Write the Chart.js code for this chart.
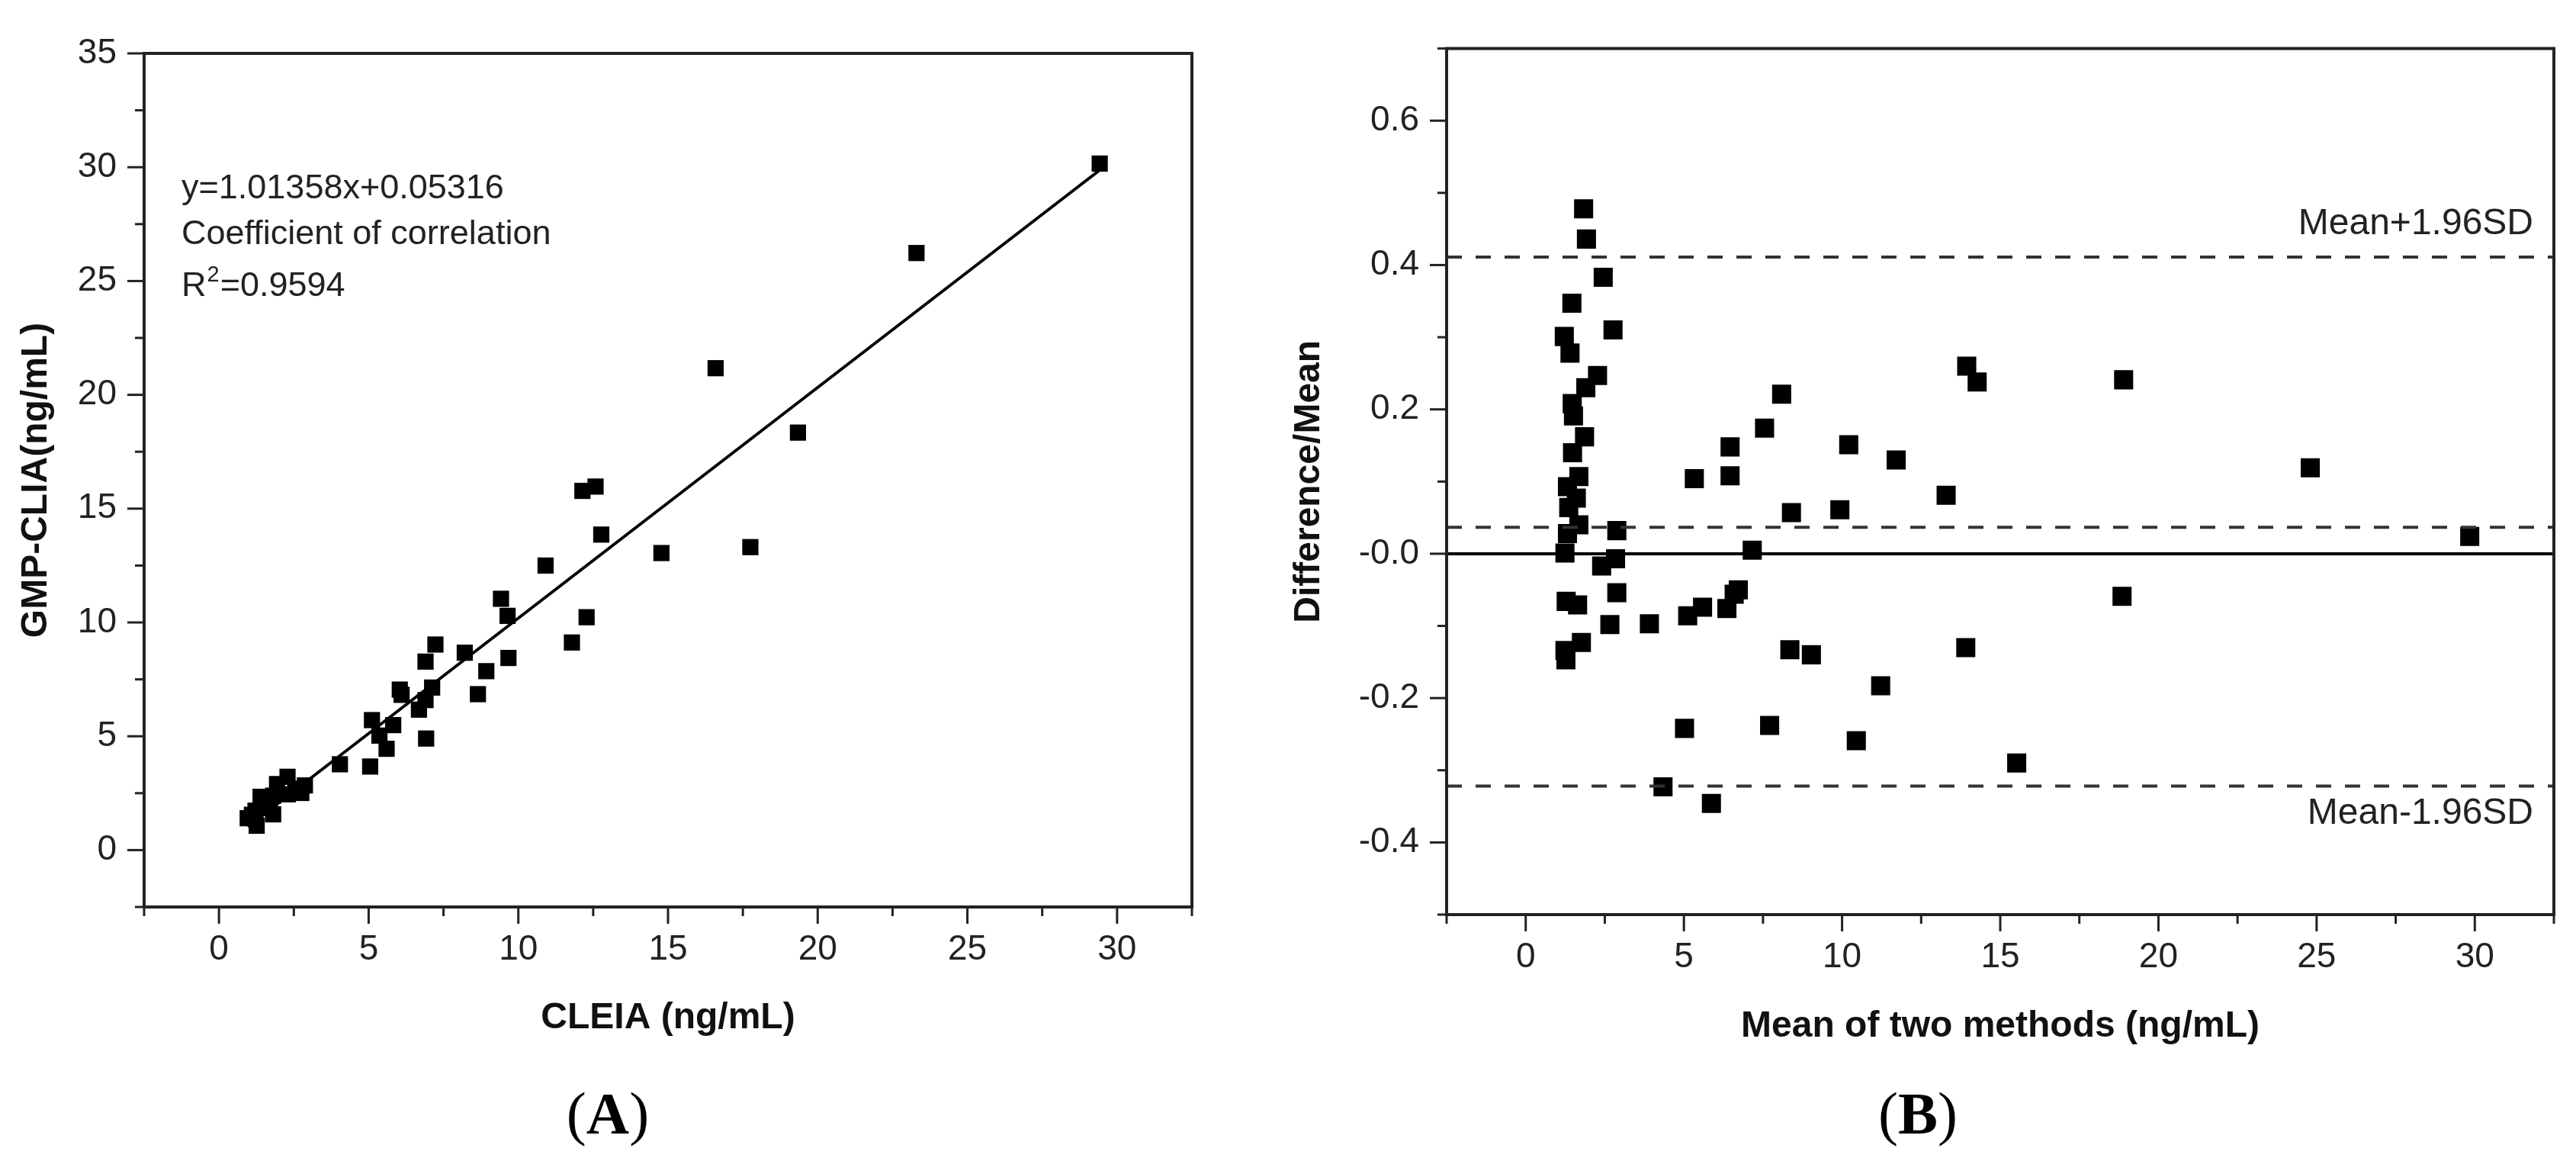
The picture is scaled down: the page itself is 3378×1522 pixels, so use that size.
<!DOCTYPE html>
<html lang="en">
<head>
<meta charset="UTF-8">
<title>CLEIA vs GMP-CLIA</title>
<script src="https://cdn.jsdelivr.net/npm/chart.js"></script>
<style>
    html, body { margin: 0; padding: 0; background: #fff; }
    body { width: 3378px; height: 1522px; position: relative; overflow: hidden; }
    canvas { position: absolute; top: 0; }
    #chartA { left: 0; }
    #chartB { left: 1680px; }
    .panel-tag {
        position: absolute;
        font-family: 'Liberation Serif', 'Times New Roman', serif;
        font-size: 78px;
        line-height: 1;
        color: #000;
        transform: translate(-50%, -50%);
        white-space: nowrap;
    }
</style>
</head>
<body>
<canvas id="chartA" width="1660" height="1400"></canvas>
<canvas id="chartB" width="1698" height="1420"></canvas>
<div class="panel-tag" style="left:797px; top:1460px;">(<b>A</b>)</div>
<div class="panel-tag" style="left:2515px; top:1460px;">(<b>B</b>)</div>
<script>
// Panel A - CLEIA vs GMP-CLIA (ng/mL)
const cleia = [29.42, 23.30, 16.59, 19.34, 17.75, 14.78, 12.14, 12.58, 12.77, 10.91,
               9.42, 9.64, 12.28, 11.79, 9.67, 8.93, 8.65, 8.21, 7.23, 6.90,
               7.12, 6.90, 6.68, 6.04, 6.10, 6.92, 5.11, 5.82, 5.36, 5.60,
               5.05, 4.04,
               0.96, 1.10, 1.26, 1.22, 1.39, 1.52, 1.81, 1.70, 1.81, 1.94,
               2.29, 2.30, 2.75, 2.87, 2.55];
const gmpClia = [30.16, 26.23, 21.17, 18.34, 13.31, 13.05, 15.78, 15.97, 13.86, 12.50,
                 11.04, 10.29, 10.23, 9.12, 8.44, 7.86, 6.85, 8.67, 9.03, 8.28,
                 7.14, 6.59, 6.17, 7.05, 6.82, 4.90, 5.71, 5.49, 5.03, 4.45,
                 3.67, 3.77,
                 1.40, 1.55, 1.07, 1.73, 2.34, 2.10, 1.57, 1.85, 2.39, 2.90,
                 3.22, 2.45, 2.51, 2.84, 2.70];
const fitSlope = 1.01358;
const fitIntercept = 0.05316;

// Panel B - difference/mean against mean of the two methods
const meanTwo = [1.83, 1.92, 2.45, 1.46, 2.76, 1.22, 1.40, 2.27, 1.90, 1.47,
                 1.51, 1.86, 1.48, 1.68, 1.32, 1.60, 1.36, 1.68, 1.32, 2.88,
                 1.24, 2.84, 2.40, 2.88, 1.28, 1.64, 2.66, 3.91, 1.76, 1.24,
                 1.27,
                 5.33, 6.46, 6.46, 7.55, 8.09, 8.40, 7.16, 6.72, 6.59, 6.36,
                 5.59, 5.12, 8.35, 9.03, 5.02, 7.71, 4.34, 5.87, 10.45, 11.22,
                 9.93, 10.21, 11.71, 13.29, 13.94, 14.27, 13.91, 15.52, 18.90, 18.85,
                 24.80, 29.84];
const diffOverMean = [0.478, 0.436, 0.383, 0.347, 0.310, 0.301, 0.278, 0.247, 0.230, 0.208,
                      0.191, 0.162, 0.140, 0.107, 0.093, 0.077, 0.064, 0.040, 0.028, 0.032,
                      0.001, -0.007, -0.017, -0.054, -0.066, -0.071, -0.098, -0.097, -0.123, -0.134,
                      -0.147,
                      0.104, 0.148, 0.108, 0.174, 0.221, 0.057, 0.005, -0.050, -0.056, -0.076,
                      -0.074, -0.086, -0.133, -0.140, -0.242, -0.238, -0.323, -0.346, -0.259, -0.183,
                      0.061, 0.151, 0.130, 0.081, 0.260, 0.238, -0.130, -0.290, 0.241, -0.059,
                      0.119, 0.024];
const meanBias = 0.0367;
const upperLimit = 0.411;
const lowerLimit = -0.322;

// tick labels
const xLabelsA = [0, 5, 10, 15, 20, 25, 30];
const yLabelsA = [0, 5, 10, 15, 20, 25, 30, 35];
const xLabelsB = [0, 5, 10, 15, 20, 25, 30];
const yLabelsB = [-0.4, -0.2, 0.0, 0.2, 0.4, 0.6];

const axisColor = '#222';
const tickFont = { family: "'Liberation Sans', Arial, sans-serif", size: 46 };
const titleFont = { family: "'Liberation Sans', Arial, sans-serif", size: 48, weight: 'bold' };

function hasLabel(list, v) {
    return list.some(l => Math.abs(l - v) < 1e-6);
}

// frame box + outward major/minor ticks on bottom and left
const frameTicks = {
    id: 'frameTicks',
    afterDraw(chart, args, opts) {
        const { ctx, chartArea: a, scales } = chart;
        ctx.save();
        ctx.strokeStyle = axisColor;
        ctx.lineWidth = 3;
        scales.x.ticks.forEach(t => {
            const px = scales.x.getPixelForValue(t.value);
            const len = hasLabel(opts.xMajor, t.value) ? 22 : 12;
            ctx.beginPath();
            ctx.moveTo(px, a.bottom);
            ctx.lineTo(px, a.bottom + len);
            ctx.stroke();
        });
        scales.y.ticks.forEach(t => {
            const py = scales.y.getPixelForValue(t.value);
            const len = hasLabel(opts.yMajor, t.value) ? 22 : 12;
            ctx.beginPath();
            ctx.moveTo(a.left, py);
            ctx.lineTo(a.left - len, py);
            ctx.stroke();
        });
        ctx.lineWidth = 4;
        ctx.strokeRect(a.left, a.top, a.right - a.left, a.bottom - a.top);
        ctx.restore();
    }
};

// free text inside the plot areas
const notes = {
    id: 'notes',
    afterDraw(chart, args, opts) {
        const { ctx, chartArea: a } = chart;
        ctx.save();
        ctx.fillStyle = axisColor;
        ctx.textBaseline = 'alphabetic';
        if (opts.kind === 'fit') {
            const x0 = a.left + 49;
            ctx.font = "45px 'Liberation Sans', Arial, sans-serif";
            ctx.textAlign = 'left';
            ctx.fillText('y=1.01358x+0.05316', x0, a.top + 190);
            ctx.fillText('Coefficient of correlation', x0, a.top + 250);
            const base = a.top + 318;
            ctx.fillText('R', x0, base);
            const rw = ctx.measureText('R').width;
            ctx.font = "29px 'Liberation Sans', Arial, sans-serif";
            ctx.fillText('2', x0 + rw + 1, base - 19);
            const sw = ctx.measureText('2').width;
            ctx.font = "45px 'Liberation Sans', Arial, sans-serif";
            ctx.fillText('=0.9594', x0 + rw + sw + 2, base);
        } else {
            const ys = chart.scales.y;
            ctx.font = "48px 'Liberation Sans', Arial, sans-serif";
            ctx.textAlign = 'right';
            ctx.textBaseline = 'middle';
            ctx.fillText('Mean+1.96SD', a.right - 27, ys.getPixelForValue(upperLimit) - 43);
            ctx.fillText('Mean-1.96SD', a.right - 27, ys.getPixelForValue(lowerLimit) + 36);
        }
        ctx.restore();
    }
};

function axisBase(min, max, step, labels, fmt, fitSize, isX) {
    return {
        type: 'linear',
        min: min,
        max: max,
        grid: { display: false, drawTicks: false },
        border: { display: false },
        ticks: {
            stepSize: step,
            autoSkip: false,
            maxRotation: 0,
            color: axisColor,
            font: tickFont,
            padding: isX ? 29 : 36,
            callback: v => hasLabel(labels, v) ? fmt(v) : ''
        },
        afterFit(scale) {
            if (isX) scale.height = fitSize; else scale.width = fitSize;
        }
    };
}

// ---- Panel A ----
const xMinA = -2.5, xMaxA = 32.5;
const fitFrom = Math.min(...cleia), fitTo = Math.max(...cleia);
const xA = axisBase(xMinA, xMaxA, 2.5, xLabelsA, v => String(v), 211, true);
xA.title = { display: true, text: 'CLEIA (ng/mL)', color: '#111', font: titleFont, padding: { top: 0, bottom: 36 } };
const yA = axisBase(-2.5, 35, 2.5, yLabelsA, v => String(v), 189, false);
yA.title = { display: true, text: 'GMP-CLIA(ng/mL)', color: '#111', font: titleFont, padding: { top: 19, bottom: 0 } };

new Chart(document.getElementById('chartA'), {
    type: 'scatter',
    data: {
        datasets: [
            {
                label: 'samples',
                data: cleia.map((x, i) => ({ x: x, y: gmpClia[i] })),
                pointStyle: 'rect',
                pointRadius: 15,
                pointHoverRadius: 15,
                backgroundColor: '#000',
                borderWidth: 0
            },
            {
                label: 'fit',
                data: [
                    { x: fitFrom, y: fitSlope * fitFrom + fitIntercept },
                    { x: fitTo, y: fitSlope * fitTo + fitIntercept }
                ],
                showLine: true,
                borderColor: '#000',
                borderWidth: 4,
                pointRadius: 0
            }
        ]
    },
    options: {
        responsive: false,
        devicePixelRatio: 1,
        animation: false,
        layout: { padding: { top: 70, right: 97, bottom: 0, left: 0 } },
        scales: { x: xA, y: yA },
        plugins: {
            legend: { display: false },
            tooltip: { enabled: false },
            frameTicks: { xMajor: xLabelsA, yMajor: yLabelsA },
            notes: { kind: 'fit' }
        }
    },
    plugins: [frameTicks, notes]
});

// ---- Panel B ----
const xMinB = -2.5, xMaxB = 32.5;
const xB = axisBase(xMinB, xMaxB, 2.5, xLabelsB, v => String(v), 221, true);
xB.title = { display: true, text: 'Mean of two methods (ng/mL)', color: '#111', font: titleFont, padding: { top: 0, bottom: 45 } };
const yB = axisBase(-0.5, 0.7, 0.1, yLabelsB, v => v.toFixed(1), 217, false);
yB.title = { display: true, text: 'Difference/Mean', color: '#111', font: titleFont, padding: { top: 8, bottom: 0 } };

function hLine(label, yv, dash) {
    return {
        label: label,
        data: [{ x: xMinB, y: yv }, { x: xMaxB, y: yv }],
        showLine: true,
        borderColor: dash ? '#333' : '#000',
        borderWidth: 4,
        borderDash: dash ? [20, 18] : [],
        pointRadius: 0
    };
}

new Chart(document.getElementById('chartB'), {
    type: 'scatter',
    data: {
        datasets: [
            hLine('zero', 0, false),
            hLine('mean', meanBias, true),
            hLine('upper', upperLimit, true),
            hLine('lower', lowerLimit, true),
            {
                label: 'samples',
                data: meanTwo.map((x, i) => ({ x: x, y: diffOverMean[i] })),
                pointStyle: 'rect',
                pointRadius: 17.7,
                pointHoverRadius: 17.7,
                backgroundColor: '#000',
                borderWidth: 0
            }
        ]
    },
    options: {
        responsive: false,
        devicePixelRatio: 1,
        animation: false,
        layout: { padding: { top: 22, right: 26, bottom: 0, left: 0 } },
        scales: { x: xB, y: yB },
        plugins: {
            legend: { display: false },
            tooltip: { enabled: false },
            frameTicks: { xMajor: xLabelsB, yMajor: yLabelsB },
            notes: { kind: 'limits' }
        }
    },
    plugins: [frameTicks, notes]
});
</script>
</body>
</html>
